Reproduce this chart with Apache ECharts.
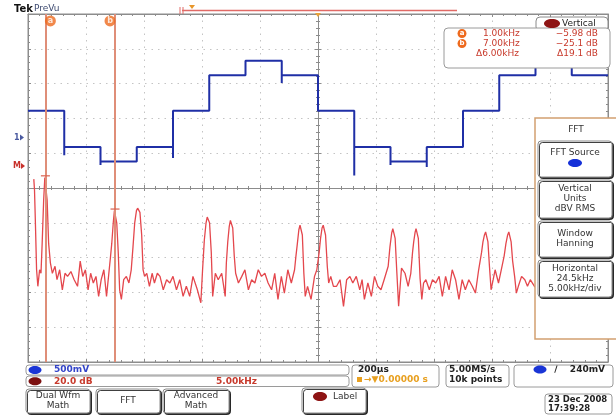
<!DOCTYPE html>
<html>
<head>
<meta charset="utf-8">
<script src="https://cdn.jsdelivr.net/npm/echarts@6/dist/echarts.min.js"></script>
<style>
html, body { margin: 0; padding: 0; background: #fff; }
#main { width: 616px; height: 416px; }
</style>
</head>
<body>
<div id="main"></div>
<script>
// channel 1: stair-step sine, 125 us per step
const stepStartUs = [-1000, -875, -750, -625, -500, -375, -250, -125, 0, 125, 250, 375, 500, 625, 750, 875];
const stepLevelV = [0.38, -0.14, -0.35, -0.14, 0.38, 0.89, 1.10, 0.89, 0.38, -0.14, -0.35, -0.14, 0.38, 0.89, 1.10, 0.89];
const edgeSpikeV = [null, -0.26, -0.40, null, -0.30, null, null, 0.78, null, -0.55, -0.40, -0.43, null, null, null, null];
const traceEndUs = 1000;

// math: FFT of channel 1, dBV RMS
const fftKHz = [0.0, 0.06, 0.13, 0.24, 0.35, 0.5, 0.62, 0.72, 0.85, 0.95, 1.0, 1.05, 1.15, 1.28, 1.43, 1.6, 1.83, 2.0,
  2.23, 2.46, 2.69, 2.91, 3.2, 3.48, 3.77, 4.0, 4.22, 4.45, 4.68, 4.9, 5.13, 5.36, 5.59, 5.81, 6.04, 6.27, 6.5,
  6.62, 6.72, 6.85, 6.95, 7.0, 7.05, 7.15, 7.28, 7.4, 7.55, 7.75, 7.98, 8.2, 8.4, 8.55, 8.7, 8.85, 8.95, 9.0, 9.05,
  9.15, 9.3, 9.42, 9.55, 9.74, 9.97, 10.2, 10.4, 10.65, 10.88, 11.16, 11.45, 11.73, 12.0, 12.3, 12.58, 12.87, 13.15,
  13.44, 13.72, 14.1, 14.4, 14.55, 14.7, 14.85, 14.95, 15.0, 15.05, 15.15, 15.3, 15.42, 15.65, 15.9, 16.2, 16.5,
  16.6, 16.72, 16.85, 16.95, 17.0, 17.05, 17.15, 17.28, 17.4, 17.64, 17.93, 18.2, 18.5, 18.78, 19.06, 19.35, 19.63,
  19.92, 20.2, 20.5, 20.77, 21.05, 21.34, 21.6, 21.9, 22.2, 22.48, 22.6, 22.72, 22.85, 22.95, 23.0, 23.05, 23.15,
  23.28, 23.4, 23.6, 23.9, 24.2, 24.4, 24.6, 24.72, 24.85, 24.95, 25.0, 25.05, 25.15, 25.3, 25.42, 25.6, 25.83,
  26.1, 26.4, 26.7, 26.97, 27.25, 27.5, 27.8, 28.1, 28.3, 28.5, 28.8, 29.1, 29.37, 29.65, 29.93, 30.2, 30.55, 30.7,
  30.85, 30.95, 31.0, 31.05, 31.15, 31.3, 31.45, 31.7, 32.0, 32.27, 32.5, 32.65, 32.75, 32.87, 32.95, 33.0, 33.05,
  33.15, 33.3, 33.45, 33.6, 33.8, 34.1, 34.37, 34.65, 34.94, 35.22, 35.5, 35.8, 36.07, 36.36, 36.65, 36.93, 37.2,
  37.5, 37.8, 38.07, 38.35, 38.6, 38.72, 38.85, 38.95, 39.0, 39.05, 39.15, 39.28, 39.42, 39.6, 39.77, 40.06, 40.3,
  40.55, 40.7, 40.85, 40.95, 41.0, 41.05, 41.15, 41.28, 41.45, 41.6, 41.77, 42.05, 42.33, 42.56, 42.8, 43.2];
const fftDb = [-7.9, -14, -31, -60, -69.5, -60, -62, -45, -20, -7, -5.98, -7, -20, -45, -56, -62, -58, -65.7,
  -60, -71.5, -62, -63.8, -61, -65.7, -69.5, -55, -63.8, -60, -71.5, -62, -67.6, -63.8, -75.3, -65.7, -60, -75.3, -60,
  -52, -45, -33, -26, -25.1, -26, -33, -50, -71.5, -77, -65.7, -63.8, -67.6, -60, -47, -33, -26, -24.6, -24.4, -24.6,
  -27, -40, -60, -63.8, -62, -69.5, -62, -67.6, -62, -63.8, -71.5, -65.7, -67.6, -63.8, -71.5, -65.7, -75.3, -69.5,
  -75.3, -63.8, -71.5, -79, -60, -43, -33, -29.7, -29.4, -29.7, -33, -50, -75.3, -62, -65.7, -62, -75.3,
  -56, -44, -35, -31.6, -31.3, -31.6, -36, -52, -62, -67.6, -63.8, -60, -71.5, -65.7, -67.6, -60, -63.8,
  -62, -67.6, -71.5, -62, -77, -63.8, -73.4, -60, -67.6, -60, -52, -45, -37, -34.4, -34.1, -34.4, -40,
  -62, -75.3, -69.5, -77, -63.8, -60, -50, -42, -36, -34.4, -34.1, -34.4, -40, -58, -67.6, -63.8, -69.5,
  -69.5, -65.7, -81, -65.7, -63.8, -67.6, -63.8, -71.5, -65.7, -77, -67.6, -75.3, -63.8, -69.5, -71.5, -65.7, -58, -47,
  -39, -36.3, -36, -36.3, -42, -62, -81, -59, -62, -69.5, -62, -50, -44, -38.5, -36.3, -36, -36.3,
  -42, -65, -77, -67.6, -65.7, -71.5, -65.7, -67.6, -63.8, -75.3, -63.8, -71.5, -60, -65.7, -77, -65.7, -71.5,
  -65.7, -69.5, -73.4, -60, -50, -44, -40, -38.3, -38, -38.3, -44, -58, -71.5, -65.7, -60, -67.6, -60,
  -52, -45, -40, -38.3, -38, -38.3, -44, -55, -63.8, -73.4, -69.5, -63.8, -65.7, -69.5, -65.7, -70];

// cursors a / b
const cursorKHz = [1.0, 7.0];
const cursorDb = [-5.98, -25.1];
const cursorNames = ['a', 'b'];

// screen scales: 10 x 10 div
const timeRange = [-1000, 1000];   // 200 us/div
const voltRange = [-3.23, 1.77];   // 500 mV/div, ground marker at 1
const freqRange = [-0.5, 49.5];    // 5 kHz/div, centre 24.5 kHz
const dbRange = [-113, 87];        // 20 dB/div

const chart = echarts.init(document.getElementById('main'));
const FONT = 'DejaVu Sans';
const GRID = { left: 28, top: 14, width: 580, height: 348 };

// build ch1 polyline from the steps
const ch1 = [];
stepStartUs.forEach((t, i) => {
  if (edgeSpikeV[i] !== null) ch1.push([t, edgeSpikeV[i]]);
  ch1.push([t, stepLevelV[i]]);
  const tEnd = i + 1 < stepStartUs.length ? stepStartUs[i + 1] : traceEndUs;
  ch1.push([tEnd, stepLevelV[i]]);
});
const fftData = fftKHz.map((f, i) => [f, fftDb[i]]);

const gridLine = { color: '#c4c4c4', type: [1.5, 5], width: 1 };
const frame = { color: '#8c8c8c', width: 1 };
function tickAxis(extra) {
  return Object.assign({
    type: 'value', min: -5, max: 5, interval: 1,
    axisLine: { show: true, lineStyle: frame },
    axisTick: { show: true, inside: true, length: 3, lineStyle: frame },
    minorTick: { show: true, splitNumber: 5, length: 2, lineStyle: frame },
    axisLabel: { show: false }, splitLine: { show: false }
  }, extra);
}
const hidden = (extra) => Object.assign({ type: 'value', show: false, splitLine: { show: false } }, extra);

// ---- screen decorations
const G = [];
function txt(x, y, s, color, size, weight, align, z) {
  G.push({ type: 'text', z: z || 110, x: x, y: y, style: {
    text: s, fill: color, font: (weight || 'normal') + ' ' + (size || 9) + 'px "' + FONT + '"',
    align: align || 'left', verticalAlign: 'middle' } });
}
function box(x, y, w, h, opt) {
  opt = opt || {};
  G.push({ type: 'rect', z: opt.z || 100, shape: { x: x, y: y, width: w, height: h, r: opt.r === undefined ? 3 : opt.r },
    style: { fill: opt.fill || '#fff', stroke: opt.stroke || '#9a9a9a', lineWidth: opt.lw || 1,
      shadowColor: opt.shadow ? 'rgba(0,0,0,0.75)' : 'transparent', shadowOffsetX: 1.5, shadowOffsetY: 1.5 } });
}
function oval(cx, cy, rx, ry, color, z) {
  G.push({ type: 'ellipse', z: z || 110, shape: { cx: cx, cy: cy, rx: rx, ry: ry }, style: { fill: color } });
}
function tri(x, y, color, dir) {
  const pts = dir === 'down' ? [[x - 3, y - 3], [x + 3, y - 3], [x, y + 1]] : [[x - 2, y - 3], [x - 2, y + 3], [x + 2, y]];
  G.push({ type: 'polygon', z: 110, shape: { points: pts }, style: { fill: color } });
}

// top bar
txt(14, 9, 'Tek', '#111', 10, 'bold');
txt(34, 9, 'PreVu', '#3d4a70', 9);
G.push({ type: 'line', z: 110, shape: { x1: 182, y1: 10.5, x2: 457, y2: 10.5 }, style: { stroke: '#e06a66', lineWidth: 1.5 } });
G.push({ type: 'line', z: 110, shape: { x1: 180, y1: 7, x2: 180, y2: 14 }, style: { stroke: '#e06a66', lineWidth: 1 } });
G.push({ type: 'line', z: 110, shape: { x1: 183, y1: 7, x2: 183, y2: 14 }, style: { stroke: '#e06a66', lineWidth: 1 } });
tri(192, 8, '#e8962a', 'down');
tri(318, 16, '#e8a23a', 'down');

// left markers
txt(14, 137.5, '1', '#4a5aa0', 8, 'bold');
tri(22, 137.5, '#4a5aa0');
txt(13, 166, 'M', '#c8302a', 8, 'bold');
tri(23, 166, '#c8302a');

// cursor readout with the Vertical tab
box(536, 17, 72, 14, { r: 4, stroke: '#8a8a8a' });
oval(552, 23.5, 8, 4.5, '#8e1414');
txt(562, 23.5, 'Vertical', '#222', 9);
box(444, 28, 166, 40, { r: 4, stroke: '#9a9a9a' });
oval(462, 33.5, 4.5, 4.5, '#ee6a1e');
txt(462, 33.5, 'a', '#fff', 7, 'bold', 'center', 120);
oval(462, 43.5, 4.5, 4.5, '#ee6a1e');
txt(462, 43.5, 'b', '#fff', 7, 'bold', 'center', 120);
const red = '#c83a2c';
txt(483, 33.5, '1.00kHz', red, 9);
txt(483, 43.5, '7.00kHz', red, 9);
txt(476, 53.5, '\u03946.00kHz', red, 9);
txt(598, 33.5, '\u22125.98 dB', red, 9, 'normal', 'right');
txt(598, 43.5, '\u221225.1 dB', red, 9, 'normal', 'right');
txt(598, 53.5, '\u039419.1 dB', red, 9, 'normal', 'right');

// FFT side menu
box(535, 118, 90, 221, { r: 0, stroke: '#d2a070', lw: 1.5 });
txt(576, 130, 'FFT', '#333', 9, 'normal', 'center');
const menu = [
  { y: 141, h: 36, lines: ['FFT Source'] },
  { y: 180, h: 38, lines: ['Vertical', 'Units', 'dBV RMS'] },
  { y: 221, h: 36, lines: ['Window', 'Hanning'] },
  { y: 260, h: 37, lines: ['Horizontal', '24.5kHz', '5.00kHz/div'] }
];
menu.forEach(b => {
  box(538, b.y, 74, b.h, { r: 3, stroke: '#8a8a8a', shadow: true });
  const y0 = b.lines.length === 1 ? b.y + 12 : b.y + b.h / 2 - (b.lines.length - 1) * 5;
  b.lines.forEach((s, k) => txt(575, y0 + k * 10, s, '#333', 9, 'normal', 'center'));
});
oval(575, 163, 7, 4, '#1530d8');

// status readouts along the bottom
box(26, 365, 323, 10, { r: 3 });
box(26, 376, 323, 10.5, { r: 3 });
oval(35, 370, 6.5, 4, '#1a35d6');
oval(35, 381.3, 6.5, 4, '#7c1010');
txt(54, 370, '500mV', '#3344c8', 9, 'bold');
txt(54, 381.3, '20.0 dB', red, 9, 'bold');
txt(216, 381.3, '5.00kHz', red, 9, 'bold');
box(352, 365, 87, 22, { r: 3 });
txt(358, 369.5, '200\u00b5s', '#222', 9, 'bold');
G.push({ type: 'rect', z: 110, shape: { x: 357, y: 377, width: 5, height: 5 }, style: { fill: '#e8a020' } });
txt(364, 380, '\u2192\u25bc0.00000 s', '#e8a020', 9, 'bold');
box(446, 365, 63, 22, { r: 3 });
txt(449, 369.5, '5.00MS/s', '#222', 9, 'bold');
txt(449, 380, '10k points', '#222', 9, 'bold');
box(514, 365, 99, 22, { r: 3 });
oval(540, 369.5, 6.5, 4, '#1a35d6');
txt(556, 369.5, '\u2215', '#222', 9, 'bold', 'center');
txt(605, 369.5, '240mV', '#222', 9, 'bold', 'right');

// bottom soft keys
const keys = [
  { x: 26, w: 64, lines: ['Dual Wfm', 'Math'] },
  { x: 96, w: 64, lines: ['FFT'] },
  { x: 163, w: 66, lines: ['Advanced', 'Math'] }
];
keys.forEach(k => {
  box(k.x, 389, k.w, 24, { r: 3, stroke: '#8a8a8a', shadow: true });
  const y0 = k.lines.length === 1 ? 401 : 396;
  k.lines.forEach((s, i) => txt(k.x + k.w / 2, y0 + i * 10, s, '#333', 9, 'normal', 'center'));
});
box(302, 388, 64, 25, { r: 3, stroke: '#8a8a8a', shadow: true });
oval(320, 396.5, 7, 4.5, '#8e1414');
txt(333, 396.5, 'Label', '#333', 9);
box(545, 394, 67, 20, { r: 3 });
txt(548, 399.5, '23 Dec 2008', '#222', 8.5, 'bold');
txt(548, 408.5, '17:39:28', '#222', 8.5, 'bold');

const option = {
  animation: false,
  backgroundColor: '#fff',
  grid: [
    Object.assign({ show: true, borderColor: '#8c8c8c', borderWidth: 1, backgroundColor: 'transparent' }, GRID),
    Object.assign({}, GRID),
    Object.assign({}, GRID),
    Object.assign({}, GRID)
  ],
  xAxis: [
    tickAxis({ gridIndex: 0, position: 'bottom', axisLine: { onZero: true, lineStyle: frame },
      splitLine: { show: true, lineStyle: gridLine } }),
    tickAxis({ gridIndex: 0, position: 'top', axisLine: { onZero: true, lineStyle: frame } }),
    tickAxis({ gridIndex: 3, position: 'top', axisLine: { onZero: false, lineStyle: frame } }),
    tickAxis({ gridIndex: 3, position: 'bottom', axisLine: { onZero: false, lineStyle: frame } }),
    hidden({ gridIndex: 1, min: timeRange[0], max: timeRange[1] }),
    hidden({ gridIndex: 2, min: freqRange[0], max: freqRange[1] })
  ],
  yAxis: [
    tickAxis({ gridIndex: 0, position: 'left', axisLine: { onZero: true, lineStyle: frame },
      splitLine: { show: true, lineStyle: gridLine } }),
    tickAxis({ gridIndex: 0, position: 'right', axisLine: { onZero: true, lineStyle: frame } }),
    tickAxis({ gridIndex: 3, position: 'left', axisLine: { onZero: false, lineStyle: frame } }),
    tickAxis({ gridIndex: 3, position: 'right', axisLine: { onZero: false, lineStyle: frame } }),
    hidden({ gridIndex: 1, min: voltRange[0], max: voltRange[1] }),
    hidden({ gridIndex: 2, min: dbRange[0], max: dbRange[1] })
  ],
  series: [
    {
      name: 'Math FFT', type: 'line', xAxisIndex: 5, yAxisIndex: 5, data: fftData,
      symbol: 'none', z: 3, lineStyle: { color: '#e4474d', width: 1.3 },
      markLine: {
        silent: true, symbol: 'none', label: { show: false },
        lineStyle: { color: '#df8e78', width: 2, type: 'solid' },
        data: cursorKHz.map(f => ({ xAxis: f }))
      }
    },
    {
      name: 'CH1', type: 'line', xAxisIndex: 4, yAxisIndex: 4, data: ch1,
      symbol: 'none', z: 4, lineStyle: { color: '#1f2fa6', width: 2 }
    },
    {
      name: 'cursor marks', type: 'scatter', xAxisIndex: 5, yAxisIndex: 5, z: 5,
      symbol: 'rect', symbolSize: [9, 1.5], itemStyle: { color: '#d9604f' },
      data: cursorKHz.map((f, i) => [f, cursorDb[i]])
    },
    {
      name: 'cursor labels', type: 'scatter', xAxisIndex: 5, yAxisIndex: 5, z: 6,
      symbol: 'circle', symbolSize: 11, itemStyle: { color: '#ee6a1e' },
      label: { show: true, position: 'inside', formatter: p => p.data.name, color: '#fff',
        fontSize: 8, fontWeight: 'bold', fontFamily: FONT },
      data: cursorKHz.map((f, i) => ({ name: cursorNames[i], value: [f, 83], symbolOffset: [i === 0 ? 5 : -5, 0] }))
    }
  ],
  graphic: { elements: G }
};
chart.setOption(option);
</script>
</body>
</html>
